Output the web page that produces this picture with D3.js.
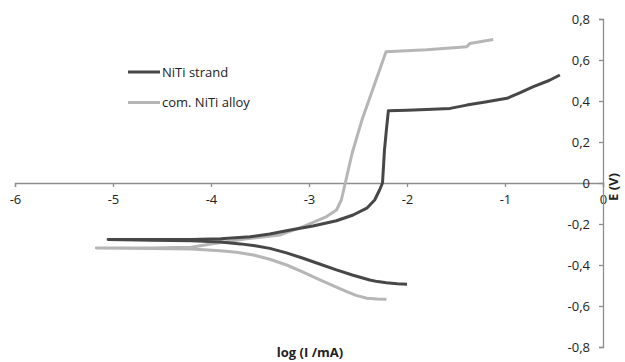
<!DOCTYPE html>
<html><head><meta charset="utf-8">
<script src="https://cdn.jsdelivr.net/npm/d3@7"></script>
<style>
html,body{margin:0;padding:0;background:#fff;}
svg{display:block;}
text{font-family:"Open Sans",sans-serif;}
</style></head>
<body>
<svg id="chart" width="625" height="362"></svg>
<script>
const seriesNames = ["NiTi strand", "com. NiTi alloy"];
const xTicks = [-6, -5, -4, -3, -2, -1, 0];
const yTicks = [-0.8, -0.6, -0.4, -0.2, 0, 0.2, 0.4, 0.6, 0.8];

// NiTi strand: log(I/mA) and E(V), in measurement order
const strandLogI = [-2.0, -2.1, -2.21, -2.3, -2.38, -2.55, -2.72, -2.9, -3.06, -3.23, -3.40, -3.55, -3.70, -3.90, -4.2, -4.6, -5.05,
  -4.6, -4.2, -3.9, -3.6, -3.40, -3.19, -2.96, -2.72, -2.55, -2.41, -2.33, -2.28, -2.25, -2.24, -2.23, -2.21, -2.19,
  -2.0, -1.8, -1.56, -1.39, -1.2, -0.98, -0.85, -0.71, -0.55, -0.44];
const strandE = [-0.494, -0.492, -0.487, -0.481, -0.473, -0.450, -0.424, -0.394, -0.367, -0.341, -0.319, -0.306, -0.297, -0.288, -0.282, -0.279, -0.276,
  -0.276, -0.275, -0.272, -0.262, -0.249, -0.229, -0.21, -0.184, -0.156, -0.123, -0.083, -0.034, 0, 0.08, 0.16, 0.26, 0.353,
  0.355, 0.358, 0.364, 0.38, 0.395, 0.413, 0.44, 0.47, 0.5, 0.527];

// com. NiTi alloy
const alloyLogI = [-2.21, -2.3, -2.41, -2.52, -2.615, -2.75, -2.888, -3.06, -3.228, -3.4, -3.568, -3.74, -3.908, -4.2, -4.6, -5.17,
  -4.6, -4.2, -4.0, -3.64, -3.30, -3.06, -2.82, -2.72, -2.67, -2.63, -2.56, -2.46, -2.34, -2.214,
  -1.8, -1.39, -1.36, -1.12];
const alloyE = [-0.567, -0.566, -0.562, -0.548, -0.530, -0.502, -0.473, -0.435, -0.4, -0.372, -0.351, -0.338, -0.330, -0.322, -0.319, -0.317,
  -0.317, -0.313, -0.298, -0.272, -0.254, -0.213, -0.164, -0.132, -0.083, 0, 0.145, 0.307, 0.47, 0.64,
  0.65, 0.665, 0.68, 0.70];

const colors = ["#474747", "#b6b6b6"];
const axisColor = "#8e8e8e";

const svg = d3.select("#chart");
const x = d3.scaleLinear().domain([-6, 0]).range([15, 603]);
const y = d3.scaleLinear().domain([-0.8, 0.8]).range([347, 19]);
const fmtX = v => String(v);
const fmtY = v => v === 0 ? "0" : d3.format(".1f")(v).replace("\u2212", "-").replace(".", ",");

// X axis at y=0
const xAxis = svg.append("g").attr("transform", `translate(0,${y(0)})`)
  .call(d3.axisBottom(x).tickValues(xTicks).tickSize(4).tickPadding(8).tickFormat(fmtX));
xAxis.select(".domain").attr("stroke", axisColor).attr("stroke-width", 1.3);
xAxis.selectAll(".tick line").attr("stroke", axisColor).attr("stroke-width", 1.3);
xAxis.selectAll(".tick text").attr("font-size", 13).attr("fill", "#222").attr("font-family", "Open Sans");

// Y axis at right (x=0)
const yAxis = svg.append("g").attr("transform", `translate(${x(0)},0)`)
  .call(d3.axisLeft(y).tickValues(yTicks).tickSize(4).tickPadding(9).tickFormat(fmtY));
yAxis.select(".domain").attr("stroke", axisColor).attr("stroke-width", 1.3);
yAxis.selectAll(".tick line").attr("stroke", axisColor).attr("stroke-width", 1.3);
yAxis.selectAll(".tick text").attr("font-size", 13).attr("fill", "#222").attr("font-family", "Open Sans");

const line = d3.line().x(d => x(d[0])).y(d => y(d[1])).curve(d3.curveLinear);
const datasets = [
  d3.zip(alloyLogI, alloyE),
  d3.zip(strandLogI, strandE)
];
const colorOrder = [colors[1], colors[0]];
datasets.forEach((d, i) => {
  svg.append("path").datum(d).attr("d", line)
    .attr("fill", "none").attr("stroke", colorOrder[i]).attr("stroke-width", 3)
    .attr("stroke-linejoin", "round").attr("stroke-linecap", "butt");
});

// Legend
const leg = svg.append("g");
seriesNames.forEach((n, i) => {
  const ly = 72 + i * 30.5;
  leg.append("line").attr("x1", 128).attr("x2", 160).attr("y1", ly).attr("y2", ly)
    .attr("stroke", colors[i]).attr("stroke-width", 3);
  leg.append("text").attr("x", 162).attr("y", ly).attr("dy", "0.35em")
    .attr("font-size", 13).attr("fill", "#222").text(n);
});

// Axis titles
svg.append("text").attr("x", 310).attr("y", 357).attr("text-anchor", "middle")
  .attr("font-size", 13).attr("font-weight", "bold").attr("fill", "#222").text("log (I /mA)");
svg.append("text").attr("transform", `translate(613,${y(0) + 4}) rotate(-90)`)
  .attr("text-anchor", "middle").attr("dy", "0.35em")
  .attr("font-size", 13).attr("font-weight", "bold").attr("fill", "#222").text("E (V)");
</script>
</body></html>
